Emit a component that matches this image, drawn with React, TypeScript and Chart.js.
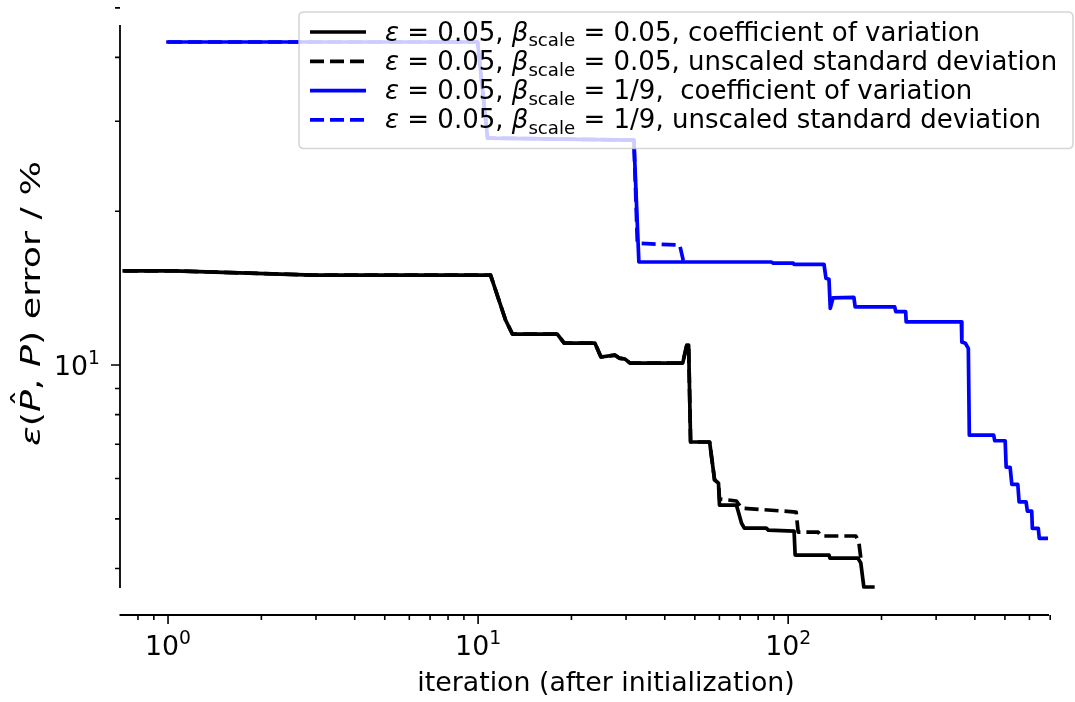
import React, { useEffect, useRef } from 'react';
import { Chart, registerables } from 'chart.js';

Chart.register(...registerables);

// ---------------- data ----------------
const iterBlackCV = [0.7226, 1.045, 2.94, 10.97, 12.26, 12.9, 18.0, 18.95, 23.8, 24.9, 27.6, 28.5, 29.8, 30.9, 45.7, 47.1, 47.75, 48.45, 55.8, 57.9, 59.6, 60.05, 68.1, 69.1, 70.7, 72.2, 85.0, 86.3, 104.5, 105.3, 135.4, 136.4, 167.8, 171.5, 175.4, 187.5];
const errBlackCV = [15.29, 15.29, 15.0, 15.0, 12.25, 11.5, 11.5, 11.04, 11.04, 10.37, 10.46, 10.32, 10.27, 10.09, 10.09, 10.94, 10.94, 7.07, 7.07, 5.96, 5.875, 5.32, 5.32, 5.157, 4.908, 4.798, 4.798, 4.755, 4.733, 4.249, 4.249, 4.19, 4.19, 4.098, 3.679, 3.679];

const iterBlackSD = [0.7226, 1.045, 2.94, 10.97, 12.26, 12.9, 18.0, 18.95, 23.8, 24.9, 27.6, 28.5, 29.8, 30.9, 45.7, 47.1, 47.75, 48.45, 55.8, 57.9, 59.6, 60.05, 68.1, 70.7, 106.1, 107.7, 124.9, 127.6, 165.3, 169.0, 171.5];
const errBlackSD = [15.29, 15.29, 15.0, 15.0, 12.25, 11.5, 11.5, 11.04, 11.04, 10.37, 10.46, 10.32, 10.27, 10.09, 10.09, 10.94, 10.94, 7.07, 7.07, 5.96, 5.875, 5.47, 5.42, 5.25, 5.157, 4.713, 4.713, 4.629, 4.629, 4.505, 4.19];

const iterBlueCV = [1, 9.96, 10.73, 31.8, 33.0, 88.2, 89.5, 103.8, 104.5, 130.5, 132.4, 135.4, 136.7, 139.5, 162.9, 164.4, 220.6, 222.3, 239.3, 240.2, 361.9, 363.2, 372.7, 381.1, 383.9, 460.2, 463.6, 501, 504.7, 519.8, 526.4, 550.3, 555.6, 585.1, 590.7, 610.3, 613, 640.7, 645.5, 681.9];
const errBlueCV = [42.87, 42.87, 27.81, 27.56, 15.91, 15.91, 15.83, 15.83, 15.74, 15.74, 14.78, 14.72, 12.91, 13.53, 13.57, 13.0, 13.0, 12.72, 12.72, 12.15, 12.15, 11.09, 11.03, 10.78, 7.29, 7.29, 7.11, 7.11, 6.31, 6.31, 5.84, 5.84, 5.40, 5.40, 5.18, 5.18, 4.79, 4.79, 4.58, 4.58];

const iterBlueSD = [1, 9.96, 10.73, 31.8, 32.63, 44.7, 46.0];
const errBlueSD = [42.87, 42.87, 27.81, 27.56, 17.31, 17.17, 15.91];

// axis ranges and ticks
const X_MIN = 0.7226;
const X_MAX = 688.6;
const Y_MIN = 3.243;
const Y_MAX = 49.74;
const xMajorTicks = [1, 10, 100];
const xMajorExponents = ['0', '1', '2'];
const xMinorTicks = [0.8, 0.9, 2, 3, 4, 5, 6, 7, 8, 9, 20, 30, 40, 50, 60, 70, 80, 90, 200, 300, 400, 500, 600, 700];
const yMajorTicks = [10];
const yMajorExponents = ['1'];
const yMinorTicks = [4, 5, 6, 7, 8, 9, 20, 30, 40, 50];

type Seg = { t: string; it?: boolean; sub?: boolean; sup?: boolean; hat?: boolean };

const legendLabels: Seg[][] = [
  [{ t: 'ε', it: true }, { t: ' = 0.05, ' }, { t: 'β', it: true }, { t: 'scale', sub: true }, { t: ' = 0.05, coefficient of variation' }],
  [{ t: 'ε', it: true }, { t: ' = 0.05, ' }, { t: 'β', it: true }, { t: 'scale', sub: true }, { t: ' = 0.05, unscaled standard deviation' }],
  [{ t: 'ε', it: true }, { t: ' = 0.05, ' }, { t: 'β', it: true }, { t: 'scale', sub: true }, { t: ' = 1/9,  coefficient of variation' }],
  [{ t: 'ε', it: true }, { t: ' = 0.05, ' }, { t: 'β', it: true }, { t: 'scale', sub: true }, { t: ' = 1/9, unscaled standard deviation' }],
];
const legendColors = ['#000000', '#000000', '#0000ff', '#0000ff'];
const legendDashed = [false, true, false, true];

const xTitle: Seg[] = [{ t: 'iteration (after initialization)' }];
const yTitle: Seg[] = [{ t: 'ε', it: true }, { t: '(' }, { t: 'P', it: true, hat: true }, { t: ', ' }, { t: 'P', it: true }, { t: ') error / %' }];

// ---------------- style ----------------
const W = 1075;
const H = 702;
const FONT = '"DejaVu Sans", sans-serif';
const FS = 26.8;
const FS_LEG = 26;
const LW = 3.7;
const DASH = [14, 6];

function fontFor(s: Seg, size: number) {
  const sz = s.sub || s.sup ? size * 0.7 : size;
  return `${s.it ? 'italic ' : ''}${sz}px ${FONT}`;
}
function measureSegs(ctx: CanvasRenderingContext2D, segs: Seg[], size: number) {
  let w = 0;
  for (const s of segs) {
    ctx.font = fontFor(s, size);
    w += ctx.measureText(s.t).width;
  }
  return w;
}
function drawSegs(ctx: CanvasRenderingContext2D, segs: Seg[], x: number, y: number, size: number) {
  let cx = x;
  ctx.textAlign = 'left';
  ctx.textBaseline = 'alphabetic';
  for (const s of segs) {
    ctx.font = fontFor(s, size);
    const dy = s.sub ? size * 0.22 : s.sup ? -size * 0.42 : 0;
    const w = ctx.measureText(s.t).width;
    ctx.fillText(s.t, cx, y + dy);
    if (s.hat) {
      ctx.font = `${size}px ${FONT}`;
      const hw = ctx.measureText('ˆ').width;
      ctx.fillText('ˆ', cx + w / 2 - hw / 2 + size * 0.08, y + dy - size * 0.28);
    }
    cx += w;
  }
  return cx;
}

const pts = (xs: number[], ys: number[]) => xs.map((x, i) => ({ x, y: ys[i] }));

const mplPlugin = {
  id: 'mplAxes',
  afterDraw(chart: any) {
    const ctx: CanvasRenderingContext2D = chart.ctx;
    const xs = chart.scales.x;
    const ys = chart.scales.y;
    const area = chart.chartArea;
    ctx.save();
    ctx.strokeStyle = '#000';
    ctx.fillStyle = '#000';
    ctx.lineCap = 'butt';

    // spines (offset / trimmed like the reference)
    const spX = area.left;
    const spYTop = area.top + 16;
    const spYBot = area.bottom - 27;
    const axY = area.bottom;
    ctx.lineWidth = 1.8;
    ctx.beginPath();
    ctx.moveTo(spX, spYTop);
    ctx.lineTo(spX, spYBot);
    ctx.moveTo(area.left - 0.5, axY);
    ctx.lineTo(area.right + 1, axY);
    ctx.stroke();

    // ticks
    ctx.lineWidth = 1.6;
    ctx.beginPath();
    for (const v of xMajorTicks) {
      const px = xs.getPixelForValue(v);
      ctx.moveTo(px, axY);
      ctx.lineTo(px, axY + 9);
    }
    for (const v of xMinorTicks) {
      const px = xs.getPixelForValue(v);
      ctx.moveTo(px, axY);
      ctx.lineTo(px, axY + 5);
    }
    for (const v of yMajorTicks) {
      const py = ys.getPixelForValue(v);
      ctx.moveTo(spX, py);
      ctx.lineTo(spX - 9, py);
    }
    for (const v of yMinorTicks) {
      const py = ys.getPixelForValue(v);
      ctx.moveTo(spX, py);
      ctx.lineTo(spX - 5, py);
    }
    ctx.stroke();

    // tick labels
    xMajorTicks.forEach((v, i) => {
      const segs: Seg[] = [{ t: '10' }, { t: xMajorExponents[i], sup: true }];
      const w = measureSegs(ctx, segs, FS);
      const px = xs.getPixelForValue(v);
      drawSegs(ctx, segs, px - w / 2, axY + 40, FS);
    });
    yMajorTicks.forEach((v, i) => {
      const segs: Seg[] = [{ t: '10' }, { t: yMajorExponents[i], sup: true }];
      const w = measureSegs(ctx, segs, FS);
      const py = ys.getPixelForValue(v);
      drawSegs(ctx, segs, spX - 20 - w, py + 10, FS);
    });

    // axis titles
    const xtw = measureSegs(ctx, xTitle, FS);
    drawSegs(ctx, xTitle, 606 - xtw / 2, 691, FS);
    ctx.save();
    ctx.translate(40, 303.5);
    ctx.rotate(-Math.PI / 2);
    const ytw = measureSegs(ctx, yTitle, FS);
    const stretch = 285 / ytw;
    ctx.scale(stretch, 1);
    drawSegs(ctx, yTitle, -ytw / 2, 0, FS);
    ctx.restore();

    // legend
    const bx = 299, by = 12, bw = 774, bh = 136.5, r = 5;
    ctx.fillStyle = 'rgba(255,255,255,0.8)';
    ctx.strokeStyle = 'rgba(204,204,204,0.8)';
    ctx.lineWidth = 1.6;
    ctx.beginPath();
    ctx.moveTo(bx + r, by);
    ctx.lineTo(bx + bw - r, by);
    ctx.quadraticCurveTo(bx + bw, by, bx + bw, by + r);
    ctx.lineTo(bx + bw, by + bh - r);
    ctx.quadraticCurveTo(bx + bw, by + bh, bx + bw - r, by + bh);
    ctx.lineTo(bx + r, by + bh);
    ctx.quadraticCurveTo(bx, by + bh, bx, by + bh - r);
    ctx.lineTo(bx, by + r);
    ctx.quadraticCurveTo(bx, by, bx + r, by);
    ctx.closePath();
    ctx.fill();
    ctx.stroke();

    legendLabels.forEach((segs, i) => {
      const base = 40.5 + i * 29.3;
      ctx.strokeStyle = legendColors[i];
      ctx.lineWidth = LW;
      ctx.setLineDash(legendDashed[i] ? DASH : []);
      ctx.beginPath();
      ctx.moveTo(310, base - 8.5);
      ctx.lineTo(366, base - 8.5);
      ctx.stroke();
      ctx.setLineDash([]);
      ctx.fillStyle = '#000';
      drawSegs(ctx, segs, 385, base, FS_LEG);
    });

    ctx.restore();
  },
};

export default function App() {
  const ref = useRef<HTMLCanvasElement>(null);
  useEffect(() => {
    const chart = new Chart(ref.current as HTMLCanvasElement, {
      type: 'line',
      data: {
        datasets: [
          { label: 'bk cv', data: pts(iterBlackCV, errBlackCV), borderColor: '#000000', borderWidth: LW, pointRadius: 0, tension: 0, order: 4, borderJoinStyle: 'round', borderCapStyle: 'square' },
          { label: 'bk sd', data: pts(iterBlackSD, errBlackSD), borderColor: '#000000', borderWidth: LW, pointRadius: 0, tension: 0, order: 3, borderDash: DASH, borderJoinStyle: 'round', borderCapStyle: 'butt' },
          { label: 'bl cv', data: pts(iterBlueCV, errBlueCV), borderColor: '#0000ff', borderWidth: LW, pointRadius: 0, tension: 0, order: 2, borderJoinStyle: 'round', borderCapStyle: 'square' },
          { label: 'bl sd', data: pts(iterBlueSD, errBlueSD), borderColor: '#0000ff', borderWidth: LW, pointRadius: 0, tension: 0, order: 1, borderDash: DASH, borderJoinStyle: 'round', borderCapStyle: 'butt' },
        ],
      },
      options: {
        animation: false,
        responsive: false,
        devicePixelRatio: 1,
        layout: { padding: { left: 120, right: W - 1048, top: 9, bottom: H - 615 } },
        scales: {
          x: { type: 'logarithmic', min: X_MIN, max: X_MAX, display: false },
          y: { type: 'logarithmic', min: Y_MIN, max: Y_MAX, display: false },
        },
        plugins: { legend: { display: false }, tooltip: { enabled: false } },
      },
      plugins: [mplPlugin],
    } as any);
    return () => chart.destroy();
  }, []);
  return (
    <div style={{ position: 'fixed', left: 0, top: 0, width: W, height: H, background: '#ffffff' }}>
      <canvas ref={ref} width={W} height={H} style={{ display: 'block', width: W, height: H }} />
    </div>
  );
}
